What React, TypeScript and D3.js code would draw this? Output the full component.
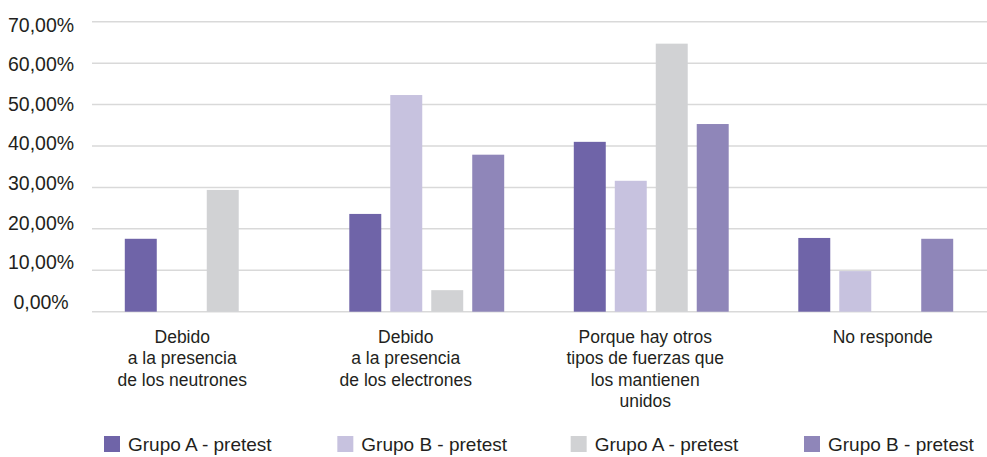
import React, { useRef, useEffect } from 'react';
import * as d3 from 'd3';

// categories (one entry per line of the axis label)
const categories = [
  ['Debido', 'a la presencia', 'de los neutrones'],
  ['Debido', 'a la presencia', 'de los electrones'],
  ['Porque hay otros', 'tipos de fuerzas que', 'los mantienen', 'unidos'],
  ['No responde'],
];

const seriesNames = ['Grupo A - pretest', 'Grupo B - pretest', 'Grupo A - pretest', 'Grupo B - pretest'];
const seriesColors = ['#6f64a8', '#c7c2df', '#d1d2d4', '#8f86b9'];

// values in %
const grupoA1 = [17.6, 23.6, 41.0, 17.8];
const grupoB1 = [0, 52.3, 31.6, 9.8];
const grupoA2 = [29.4, 5.2, 64.7, 0];
const grupoB2 = [0, 37.9, 45.3, 17.6];
const seriesValues = [grupoA1, grupoB1, grupoA2, grupoB2];

const yTicks = [0, 10, 20, 30, 40, 50, 60, 70];

const W = 987;
const H = 457;
const FONT = '"Liberation Sans", Arial, sans-serif';

const App: React.FC = () => {
  const svgRef = useRef<SVGSVGElement>(null);

  useEffect(() => {
    if (!svgRef.current) return;
    const svg = d3.select(svgRef.current);
    svg.selectAll('*').remove();

    const y = d3.scaleLinear().domain([0, 70]).range([311.7, 21.7]);
    // tick labels in the original sit on a slightly tighter spacing than the grid
    const yLabel = d3.scaleLinear().domain([0, 70]).range([301.5, 24.5]);

    const x0 = d3.scaleBand<number>()
      .domain(d3.range(categories.length))
      .range([90, 988])
      .paddingInner(0.31)
      .paddingOuter(0.155);

    const x1 = d3.scaleBand<number>()
      .domain(d3.range(seriesNames.length))
      .range([0, x0.bandwidth()])
      .paddingInner(0.22);

    // grid
    svg.append('g')
      .selectAll('line')
      .data(yTicks)
      .join('line')
      .attr('x1', 92)
      .attr('x2', W)
      .attr('y1', d => y(d))
      .attr('y2', d => y(d))
      .attr('stroke', '#d9d9d9')
      .attr('stroke-width', 1.5);

    // y labels
    svg.append('g')
      .selectAll('text')
      .data(yTicks)
      .join('text')
      .attr('transform', d => `translate(41,${yLabel(d)}) scale(1,1.08)`)
      .attr('text-anchor', 'middle')
      .attr('dominant-baseline', 'central')
      .attr('font-family', FONT)
      .attr('font-size', 19.5)
      .attr('fill', '#231f20')
      .text(d => `${d.toFixed(2).replace('.', ',')}%`);

    // bars
    const groups = svg.append('g')
      .selectAll('g')
      .data(categories.map((_, i) => i))
      .join('g')
      .attr('transform', i => `translate(${x0(i)},0)`);

    groups.selectAll('rect')
      .data(i => seriesValues.map((vals, s) => ({ s, v: vals[i] })))
      .join('rect')
      .attr('x', d => x1(d.s)!)
      .attr('width', x1.bandwidth())
      .attr('y', d => y(d.v))
      .attr('height', d => y(0) - y(d.v))
      .attr('fill', d => seriesColors[d.s]);

    // category labels
    const labelShift = [-20, -21, -6, 7];
    const cat = svg.append('g')
      .selectAll('text')
      .data(categories)
      .join('text')
      .attr('text-anchor', 'middle')
      .attr('font-family', FONT)
      .attr('font-size', 17.5)
      .attr('fill', '#231f20');

    cat.each(function (lines, i) {
      const cx = x0(i)! + x0.bandwidth() / 2 + labelShift[i];
      d3.select(this)
        .selectAll('tspan')
        .data(lines)
        .join('tspan')
        .attr('x', cx)
        .attr('y', (_, k) => 342.5 + k * 21.5)
        .text(d => d);
    });

    // legend
    const legendX = d3.scaleLinear().domain([0, 3]).range([104, 804]);
    const leg = svg.append('g')
      .selectAll('g')
      .data(seriesNames)
      .join('g')
      .attr('transform', (_, i) => `translate(${legendX(i)},436)`);

    leg.append('rect')
      .attr('width', 16)
      .attr('height', 16)
      .attr('fill', (_, i) => seriesColors[i]);

    leg.append('text')
      .attr('x', 24)
      .attr('y', 8)
      .attr('dominant-baseline', 'central')
      .attr('font-family', FONT)
      .attr('font-size', 19)
      .attr('fill', '#231f20')
      .text(d => d);
  }, []);

  return (
    <svg
      ref={svgRef}
      width={W}
      height={H}
      style={{ position: 'absolute', left: 0, top: 0, background: '#fff' }}
    />
  );
};

export default App;
